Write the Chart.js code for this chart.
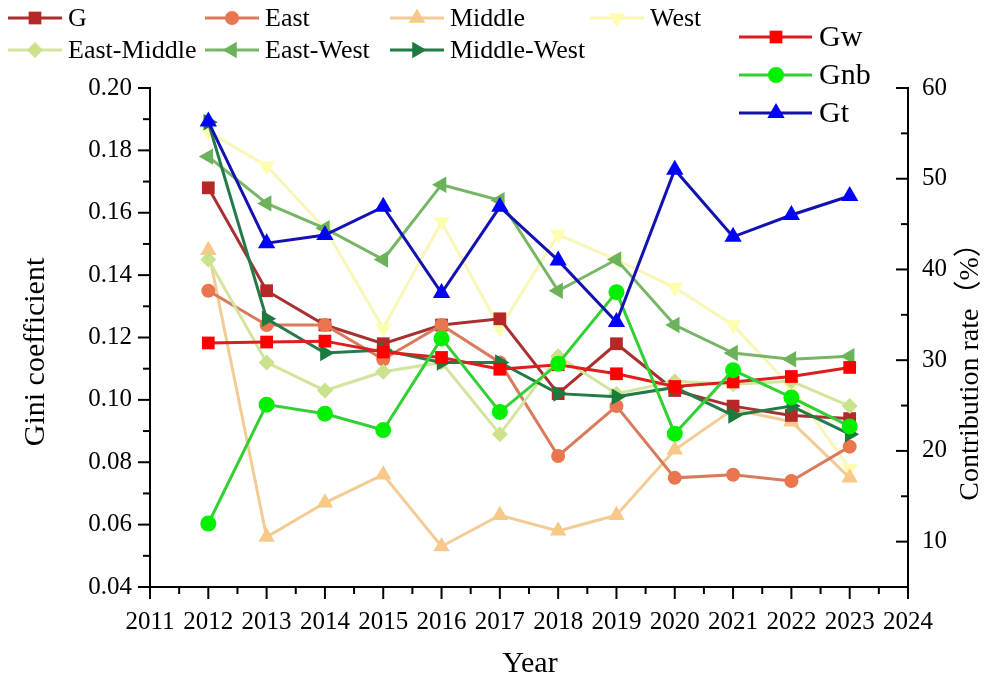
<!DOCTYPE html>
<html>
<head>
<meta charset="utf-8">
<script src="https://cdn.jsdelivr.net/npm/chart.js@4.4.1/dist/chart.umd.min.js"></script>
<style>
  html, body { margin: 0; padding: 0; background: #ffffff; }
  canvas { display: block; }
</style>
</head>
<body>
<canvas id="chart" width="988" height="684"></canvas>
<script>
// Years on the x axis
const years = [2012, 2013, 2014, 2015, 2016, 2017, 2018, 2019, 2020, 2021, 2022, 2023];

// Gini coefficients (left axis)
const gOverall   = [0.168, 0.135, 0.124, 0.118, 0.124, 0.126, 0.102, 0.118, 0.103, 0.098, 0.095, 0.094];
const gEast      = [0.135, 0.124, 0.124, 0.113, 0.124, 0.112, 0.082, 0.098, 0.075, 0.076, 0.074, 0.085];
const gMiddle    = [0.148, 0.056, 0.067, 0.076, 0.053, 0.063, 0.058, 0.063, 0.084, 0.097, 0.093, 0.075];
const gWest      = [0.186, 0.175, 0.155, 0.123, 0.157, 0.123, 0.153, 0.145, 0.136, 0.124, 0.104, 0.078];
const gEastMid   = [0.145, 0.112, 0.103, 0.109, 0.112, 0.089, 0.114, 0.102, 0.106, 0.105, 0.106, 0.098];
const gEastWest  = [0.178, 0.163, 0.155, 0.145, 0.169, 0.164, 0.135, 0.145, 0.124, 0.115, 0.113, 0.114];
const gMidWest   = [0.189, 0.126, 0.115, 0.116, 0.112, 0.112, 0.102, 0.101, 0.104, 0.095, 0.098, 0.089];

// Contribution rates in % (right axis)
const rateGw  = [31.9, 32.0, 32.1, 30.9, 30.3, 29.0, 29.5, 28.5, 27.1, 27.6, 28.2, 29.2];
const rateGnb = [12.0, 25.1, 24.1, 22.3, 32.4, 24.3, 29.6, 37.5, 21.9, 28.9, 25.9, 22.7];
const rateGt  = [56.3, 42.9, 43.8, 46.9, 37.4, 46.9, 41.0, 34.2, 51.0, 43.6, 46.0, 48.1];

// Axis ranges and tick labels
const xRange = [2011, 2024];
const leftRange = [0.04, 0.20];
const rightRange = [5, 60];

const SERIF = '"Liberation Serif", "Times New Roman", "Noto Sans CJK SC", serif';

function series(label, values, axis, fill, line, style, rotation, radius, order) {
  return {
    label,
    data: years.map((yr, i) => ({ x: yr, y: values[i] })),
    yAxisID: axis,
    borderColor: line,
    backgroundColor: fill,
    pointBackgroundColor: fill,
    pointBorderColor: fill,
    pointBorderWidth: 0,
    pointStyle: style,
    pointRotation: rotation,
    pointRadius: radius,
    pointHoverRadius: radius,
    borderWidth: 3,
    tension: 0,
    order
  };
}

const datasets = [
  series('G',           gOverall,  'y',  '#B52828', '#A83030', 'rect',     0,   9,   9),
  series('East',        gEast,     'y',  '#E9764E', '#D97A5C', 'circle',   0,   7,   8),
  series('Middle',      gMiddle,   'y',  '#F7C888', '#F2CC94', 'triangle', 0,   9.5, 10),
  series('West',        gWest,     'y',  '#FFFDB0', '#FAF6B8', 'triangle', 180, 9.5, 11),
  series('East-Middle', gEastMid,  'y',  '#CBE28D', '#D3E49C', 'rectRot',  0,   8,   7),
  series('East-West',   gEastWest, 'y',  '#6BB35A', '#78B567', 'triangle', 270, 9.5, 6),
  series('Middle-West', gMidWest,  'y',  '#1C7A3E', '#237B47', 'triangle', 90,  9.5, 5),
  series('Gw',          rateGw,    'y1', '#FF0000', '#DD1E1E', 'rect',     0,   9,   2),
  series('Gnb',         rateGnb,   'y1', '#00F000', '#33D033', 'circle',   0,   8,   1),
  series('Gt',          rateGt,    'y1', '#0000FF', '#1212B0', 'triangle', 0,   10,  0)
];

function strokeLine(ctx, x1, y1, x2, y2) {
  ctx.beginPath();
  ctx.moveTo(x1, y1);
  ctx.lineTo(x2, y2);
  ctx.stroke();
}

function marker(ctx, ds, x, y) {
  ctx.fillStyle = ds.pointBackgroundColor;
  Chart.helpers.drawPoint(ctx, {
    pointStyle: ds.pointStyle,
    rotation: ds.pointRotation,
    radius: ds.pointRadius,
    borderWidth: 0
  }, x, y);
}

// Axis lines with major and minor tick marks
const axisFrame = {
  id: 'axisFrame',
  afterDatasetsDraw(chart) {
    const { ctx, chartArea: a } = chart;
    const { x, y, y1 } = chart.scales;
    ctx.save();
    ctx.strokeStyle = '#000';
    ctx.lineWidth = 2;
    ctx.beginPath();
    ctx.moveTo(a.left, a.top - 1);
    ctx.lineTo(a.left, a.bottom);
    ctx.lineTo(a.right, a.bottom);
    ctx.lineTo(a.right, a.top - 1);
    ctx.stroke();
    for (let v = xRange[0]; v <= xRange[1]; v += 0.5) {
      const px = x.getPixelForValue(v);
      strokeLine(ctx, px, a.bottom, px, a.bottom + (Number.isInteger(v) ? 12 : 7));
    }
    for (let k = 4; k <= 20; k++) {
      const py = y.getPixelForValue(k / 100);
      strokeLine(ctx, a.left - (k % 2 === 0 ? 12 : 7), py, a.left, py);
    }
    for (let v = 10; v <= 60; v += 5) {
      const py = y1.getPixelForValue(v);
      strokeLine(ctx, a.right - (v % 10 === 0 ? 12 : 7), py, a.right, py);
    }
    ctx.restore();
  }
};

// Axis titles and the two legend blocks
const labelsAndKeys = {
  id: 'labelsAndKeys',
  afterDraw(chart) {
    const ctx = chart.ctx;
    const ds = chart.data.datasets;
    ctx.save();
    ctx.fillStyle = '#000';
    ctx.textBaseline = 'middle';

    // Titles
    ctx.font = '30px ' + SERIF;
    ctx.textAlign = 'center';
    ctx.fillText('Year', 530, 664);
    ctx.save();
    ctx.translate(36, 352);
    ctx.rotate(-Math.PI / 2);
    ctx.fillText('Gini coefficient', 0, 0);
    ctx.restore();
    ctx.save();
    ctx.font = '28px ' + SERIF;
    ctx.translate(971, 365);
    ctx.rotate(-Math.PI / 2);
    ctx.fillText('Contribution rate（%）', 0, 0);
    ctx.restore();

    // Regional legend, top left
    const cols = [8, 205, 390, 590];
    const rows = [18, 50];
    ctx.textAlign = 'left';
    ctx.font = '26px ' + SERIF;
    for (let i = 0; i < 7; i++) {
      const d = ds[i];
      const x0 = cols[i < 4 ? i : i - 4];
      const yy = rows[i < 4 ? 0 : 1];
      ctx.strokeStyle = d.borderColor;
      ctx.lineWidth = 3;
      strokeLine(ctx, x0, yy, x0 + 54, yy);
      marker(ctx, d, x0 + 27, yy);
      ctx.fillStyle = '#000';
      ctx.fillText(d.label, x0 + 60, yy + 1);
    }

    // Decomposition legend, top right
    ctx.font = '30px ' + SERIF;
    const ry = [37, 75, 113];
    for (let i = 0; i < 3; i++) {
      const d = ds[7 + i];
      ctx.strokeStyle = d.borderColor;
      ctx.lineWidth = 3;
      strokeLine(ctx, 739, ry[i], 812, ry[i]);
      marker(ctx, d, 776, ry[i]);
      ctx.fillStyle = '#000';
      ctx.fillText(d.label, 819, ry[i] + 1);
    }
    ctx.restore();
  }
};

const tickFont = { family: SERIF, size: 25 };
const noGrid = { display: false, drawTicks: false, tickLength: 0 };

new Chart(document.getElementById('chart'), {
  type: 'line',
  data: { datasets },
  options: {
    responsive: false,
    animation: false,
    devicePixelRatio: 1,
    layout: { padding: { top: 88, left: 0, right: 0, bottom: 0 } },
    plugins: { legend: { display: false }, tooltip: { enabled: false } },
    elements: { line: { tension: 0 } },
    scales: {
      x: {
        type: 'linear',
        min: xRange[0], max: xRange[1],
        grid: noGrid, border: { display: false },
        ticks: { stepSize: 1, padding: 20, color: '#000', font: tickFont, maxRotation: 0, autoSkip: false,
                 callback: v => String(v) },
        afterFit: s => { s.height = 97; }
      },
      y: {
        type: 'linear', position: 'left',
        min: leftRange[0], max: leftRange[1],
        grid: noGrid, border: { display: false },
        ticks: { stepSize: 0.02, padding: 18, color: '#000', font: tickFont,
                 callback: v => Number(v).toFixed(2) },
        afterFit: s => { s.width = 150; }
      },
      y1: {
        type: 'linear', position: 'right',
        min: rightRange[0], max: rightRange[1],
        grid: noGrid, border: { display: false },
        ticks: { stepSize: 5, padding: 14, color: '#000', font: tickFont,
                 callback: v => (v % 10 === 0 ? String(v) : '') },
        afterFit: s => { s.width = 80; }
      }
    }
  },
  plugins: [axisFrame, labelsAndKeys]
});
</script>
</body>
</html>
